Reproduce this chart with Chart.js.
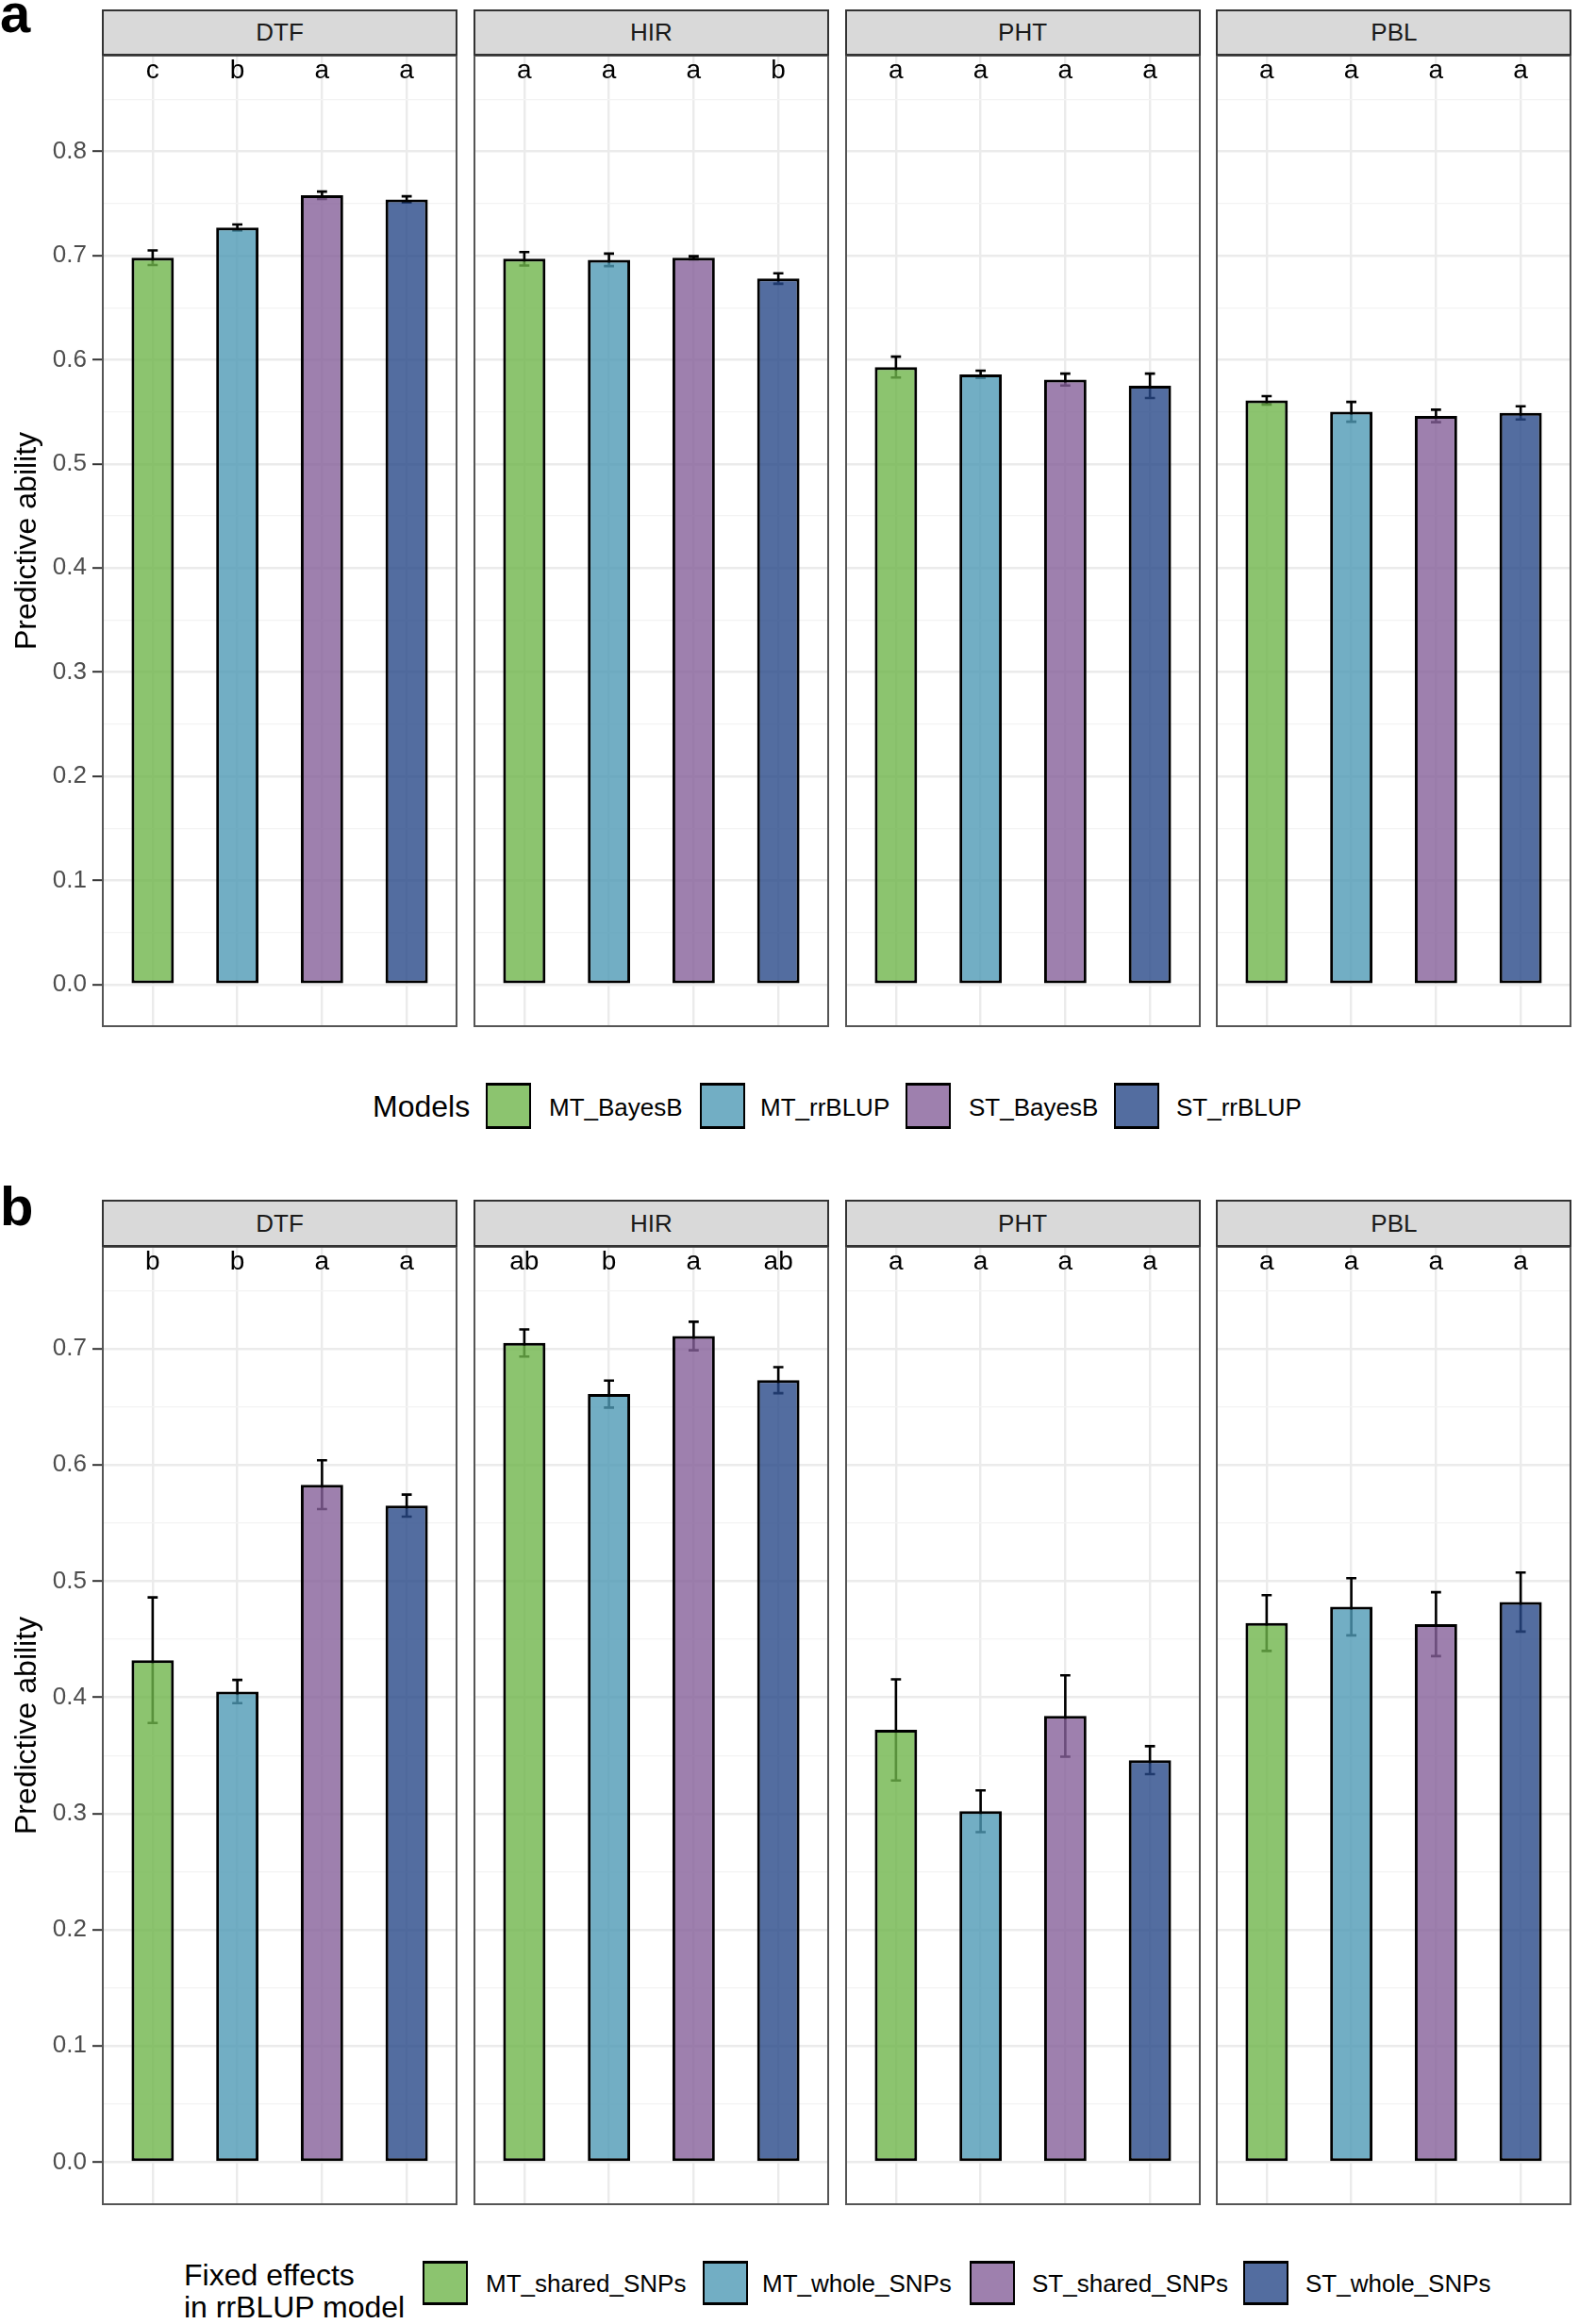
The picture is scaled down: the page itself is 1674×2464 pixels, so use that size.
<!DOCTYPE html>
<html>
<head>
<meta charset="utf-8">
<script src="https://cdn.jsdelivr.net/npm/chart.js@4.4.1/dist/chart.umd.min.js"></script>
<style>
  html, body { margin: 0; padding: 0; background: #fff; }
  body { width: 1674px; height: 2464px; position: relative; overflow: hidden;
         font-family: "Liberation Sans", Arial, Helvetica, sans-serif; }
  .abs { position: absolute; }
  .tag { font-size: 58px; font-weight: bold; line-height: 58px; color: #000; }
  .strip { box-sizing: border-box; background: #D9D9D9; border: 2px solid #333;
           display: flex; align-items: center; justify-content: center;
           font-size: 26px; color: #1A1A1A; }
  .lg-title { font-size: 32px; line-height: 34px; color: #000; transform: translateY(-50%); white-space: nowrap; }
  .lg-key { box-sizing: border-box; border: 2px solid #000; border-top-width: 3px; border-bottom-width: 3px; }
  .lg-label { font-size: 26px; line-height: 26px; color: #000; transform: translateY(-50%); white-space: nowrap; }
  canvas { position: absolute; }
</style>
</head>
<body>
<script>
// ---- data ----
const traits = ['DTF', 'HIR', 'PHT', 'PBL'];
const modelsA = ['MT_BayesB', 'MT_rrBLUP', 'ST_BayesB', 'ST_rrBLUP'];
const modelsB = ['MT_shared_SNPs', 'MT_whole_SNPs', 'ST_shared_SNPs', 'ST_whole_SNPs'];
const xPositions = [1, 2, 3, 4];

// panel a: predictive ability by model (rows follow traits)
const meansA = [
    [0.698, 0.727, 0.758, 0.754],
    [0.697, 0.696, 0.698, 0.678],
    [0.593, 0.586, 0.581, 0.575],
    [0.561, 0.550, 0.546, 0.549]
];
const errA = [
    [0.007, 0.003, 0.0035, 0.003],
    [0.0065, 0.006, 0.0015, 0.005],
    [0.010, 0.0035, 0.0057, 0.0117],
    [0.004, 0.0095, 0.006, 0.0063]
];
const lettersA = [
    ['c', 'b', 'a', 'a'],
    ['a', 'a', 'a', 'b'],
    ['a', 'a', 'a', 'a'],
    ['a', 'a', 'a', 'a']
];

// panel b: fixed effects in rrBLUP model
const meansB = [
    [0.432, 0.405, 0.583, 0.565],
    [0.705, 0.661, 0.711, 0.673],
    [0.372, 0.302, 0.384, 0.346],
    [0.464, 0.478, 0.463, 0.482]
];
const errB = [
    [0.054, 0.010, 0.021, 0.0095],
    [0.0117, 0.0116, 0.0123, 0.0112],
    [0.0435, 0.018, 0.035, 0.012],
    [0.024, 0.0246, 0.0275, 0.0254]
];
const lettersB = [
    ['b', 'b', 'a', 'a'],
    ['ab', 'b', 'a', 'ab'],
    ['a', 'a', 'a', 'a'],
    ['a', 'a', 'a', 'a']
];

// y ticks (major every 0.1 is labelled, 0.05 are minor grid lines)
const yTicksA = [0, 0.05, 0.1, 0.15, 0.2, 0.25, 0.3, 0.35, 0.4, 0.45, 0.5, 0.55, 0.6, 0.65, 0.7, 0.75, 0.8, 0.85];
const yTicksB = [0, 0.05, 0.1, 0.15, 0.2, 0.25, 0.3, 0.35, 0.4, 0.45, 0.5, 0.55, 0.6, 0.65, 0.7, 0.75];
const yRangeA = [-0.041, 0.893];
const yRangeB = [-0.037, 0.7885];

// ---- styling / layout ----
const fills = ['rgba(111,181,75,0.8)', 'rgba(79,154,181,0.8)', 'rgba(134,96,154,0.8)', 'rgba(40,73,136,0.8)'];
const fontFamily = '"Liberation Sans", Arial, Helvetica, sans-serif';
const axisW = 108;
const panelW = 377;
const panelPitch = 393.8;
const rows = [
    { tag: 'a', tagTop: -15, stripTop: 9.5, plotTop: 58, plotBottom: 1089,
      means: meansA, errs: errA, letters: lettersA, ticks: yTicksA, range: yRangeA },
    { tag: 'b', tagTop: 1250, stripTop: 1272, plotTop: 1321, plotBottom: 2338,
      means: meansB, errs: errB, letters: lettersB, ticks: yTicksB, range: yRangeB }
];

function isMajor(v) {
    return Math.abs(v * 10 - Math.round(v * 10)) < 1e-6;
}

function addEl(cls, css, text) {
    const el = document.createElement('div');
    el.className = 'abs ' + cls;
    Object.assign(el.style, css);
    if (text !== undefined) el.textContent = text;
    document.body.appendChild(el);
    return el;
}

// error bars under the bars, letters and panel frame on top
const panelDecor = {
    id: 'panelDecor',
    beforeDatasetsDraw(chart, args, opts) {
        const ctx = chart.ctx;
        const y = chart.scales.y;
        const x = chart.scales.x;
        const capHalf = (x.getPixelForValue(2) - x.getPixelForValue(1)) * 0.06;
        const data = chart.data.datasets[0].data;
        ctx.save();
        ctx.strokeStyle = '#000';
        ctx.lineWidth = 2.6;
        data.forEach((d, i) => {
            const px = x.getPixelForValue(d.x);
            const top = y.getPixelForValue(d.y + opts.errs[i]);
            const bot = y.getPixelForValue(d.y - opts.errs[i]);
            ctx.beginPath();
            ctx.moveTo(px, top); ctx.lineTo(px, bot);
            ctx.moveTo(px - capHalf, top); ctx.lineTo(px + capHalf, top);
            ctx.moveTo(px - capHalf, bot); ctx.lineTo(px + capHalf, bot);
            ctx.stroke();
        });
        ctx.restore();
    },
    afterDraw(chart, args, opts) {
        const ctx = chart.ctx;
        const area = chart.chartArea;
        const x = chart.scales.x;
        ctx.save();
        ctx.fillStyle = '#000';
        ctx.font = '28px ' + fontFamily;
        ctx.textAlign = 'center';
        ctx.textBaseline = 'alphabetic';
        opts.letters.forEach((t, i) => {
            ctx.fillText(t, x.getPixelForValue(xPositions[i]), area.top + 25);
        });
        ctx.strokeStyle = '#555';
        ctx.lineWidth = 2;
        ctx.strokeRect(area.left + 1, area.top + 1, area.right - area.left - 2, area.bottom - area.top - 2);
        ctx.restore();
    }
};

function makePanel(row, p) {
    const first = p === 0;
    const panelLeft = axisW + p * panelPitch;
    const canvas = document.createElement('canvas');
    const w = first ? axisW + panelW : panelW;
    const h = row.plotBottom - row.plotTop;
    canvas.width = w;
    canvas.height = h;
    canvas.style.left = (first ? 0 : panelLeft) + 'px';
    canvas.style.top = row.plotTop + 'px';
    canvas.style.width = w + 'px';
    canvas.style.height = h + 'px';
    document.body.appendChild(canvas);

    new Chart(canvas, {
        type: 'bar',
        data: {
            datasets: [{
                data: row.means[p].map((v, i) => ({ x: xPositions[i], y: v })),
                backgroundColor: fills,
                borderColor: '#000',
                borderWidth: 3,
                borderSkipped: false,
                barPercentage: 0.5,
                categoryPercentage: 1.0
            }]
        },
        options: {
            responsive: false,
            animation: false,
            devicePixelRatio: 1,
            layout: { padding: 0 },
            plugins: {
                legend: { display: false },
                tooltip: { enabled: false },
                panelDecor: { errs: row.errs[p], letters: row.letters[p] }
            },
            scales: {
                x: {
                    type: 'linear',
                    min: 0.4,
                    max: 4.6,
                    offset: false,
                    afterBuildTicks: s => { s.ticks = xPositions.map(v => ({ value: v })); },
                    afterFit: s => { s.height = 0; s.paddingLeft = 0; s.paddingRight = 0; },
                    ticks: { display: false },
                    border: { display: false },
                    grid: { offset: false, color: '#EBEBEB', lineWidth: 2.4, drawTicks: false }
                },
                y: {
                    type: 'linear',
                    min: row.range[0],
                    max: row.range[1],
                    afterBuildTicks: s => { s.ticks = row.ticks.map(v => ({ value: v })); },
                    afterFit: s => { s.width = first ? axisW : 0; s.paddingTop = 0; s.paddingBottom = 0; },
                    border: { display: false },
                    ticks: {
                        display: first,
                        autoSkip: false,
                        padding: 6,
                        color: '#4D4D4D',
                        font: { family: fontFamily, size: 26 },
                        callback: v => isMajor(v) ? v.toFixed(1) : ''
                    },
                    grid: {
                        drawTicks: first,
                        tickLength: 10,
                        tickWidth: 2,
                        tickColor: c => isMajor(c.tick.value) ? '#333' : 'rgba(0,0,0,0)',
                        color: c => isMajor(c.tick.value) ? '#EBEBEB' : '#F3F3F3',
                        lineWidth: c => isMajor(c.tick.value) ? 2.4 : 1.3
                    },
                    title: {
                        display: first,
                        text: 'Predictive ability',
                        color: '#000',
                        font: { family: fontFamily, size: 32 },
                        padding: { top: 10, bottom: 0 }
                    }
                }
            }
        },
        plugins: [panelDecor]
    });

    addEl('strip', {
        left: panelLeft + 'px', top: row.stripTop + 'px',
        width: panelW + 'px', height: (row.plotTop - row.stripTop + 1) + 'px'
    }, traits[p]);
}

rows.forEach(row => {
    addEl('tag', { left: '0px', top: row.tagTop + 'px' }, row.tag);
    traits.forEach((t, p) => makePanel(row, p));
});

// ---- legends ----
function legend(title, names, titlePos, keyLefts, labelLefts, keyTop, keyH, midY) {
    const t = addEl('lg-title', { left: titlePos[0] + 'px', top: titlePos[1] + 'px' });
    t.innerHTML = title;
    names.forEach((n, i) => {
        addEl('lg-key', {
            left: keyLefts[i] + 'px', top: keyTop + 'px',
            width: '48px', height: keyH + 'px', background: fills[i]
        });
        addEl('lg-label', { left: labelLefts[i] + 'px', top: midY + 'px' }, n);
    });
}

legend('Models', modelsA, [395, 1173], [515, 742, 960, 1181], [582, 806, 1027, 1247], 1148, 49, 1174);
legend('Fixed effects<br>in rrBLUP model', modelsB, [195, 2429], [448, 745, 1028, 1318], [515, 808, 1094, 1384], 2397, 47, 2421);
</script>
</body>
</html>
